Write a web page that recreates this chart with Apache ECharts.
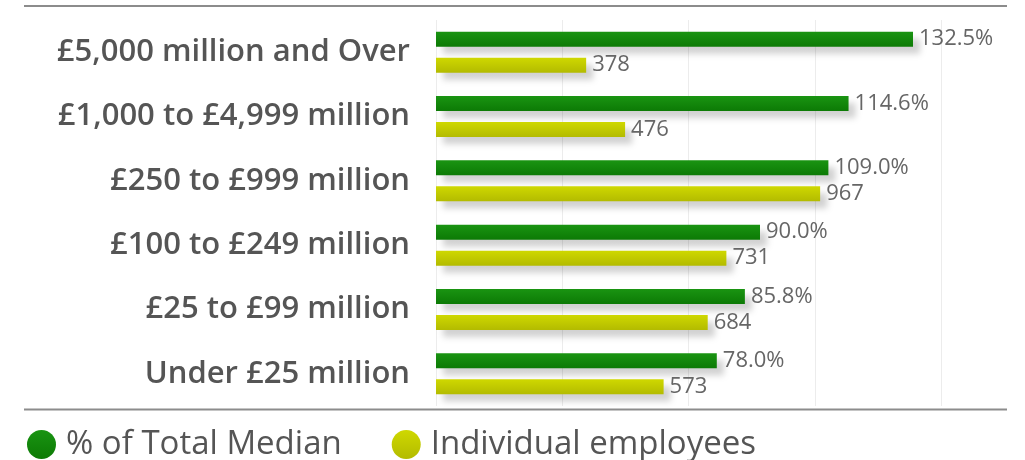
<!DOCTYPE html>
<html>
<head>
<meta charset="utf-8">
<script src="https://cdn.jsdelivr.net/npm/echarts@6/dist/echarts.min.js"></script>
<style>
  html, body { margin: 0; padding: 0; background: #fff; }
  #chart { width: 1025px; height: 460px; }
</style>
</head>
<body>
<div id="chart"></div>
<script>
// Turnover bands, top to bottom
const categories = [
  '£5,000 million and Over',
  '£1,000 to £4,999 million',
  '£250 to £999 million',
  '£100 to £249 million',
  '£25 to £99 million',
  'Under £25 million'
];
// Share of the total median (%)
const pctOfMedian = [132.5, 114.6, 109.0, 90.0, 85.8, 78.0];
// Number of individual employees
const employees = [378, 476, 967, 731, 684, 573];

const seriesNames = ['% of Total Median', 'Individual employees'];

const FONT = '"Open Sans", Lato, sans-serif';
const shadow = {
  shadowColor: 'rgba(0,0,0,0.18)',
  shadowBlur: 6,
  shadowOffsetX: 7,
  shadowOffsetY: 7
};

const chart = echarts.init(document.getElementById('chart'), null, { renderer: 'canvas' });

chart.setOption({
  animation: false,
  backgroundColor: '#ffffff',
  grid: { left: 436, top: 20, width: 576, height: 386, containLabel: false },
  xAxis: [
    {
      type: 'value', min: 0, max: 160, interval: 35.1,
      axisLine: { show: false }, axisTick: { show: false }, axisLabel: { show: false },
      splitLine: { show: true, showMaxLine: false, lineStyle: { color: '#ececec', width: 1 } }
    },
    {
      type: 'value', min: 0, max: 1450,
      axisLine: { show: false }, axisTick: { show: false }, axisLabel: { show: false },
      splitLine: { show: false }
    }
  ],
  yAxis: {
    type: 'category', data: categories, inverse: true,
    axisLine: { show: false }, axisTick: { show: false },
    axisLabel: {
      margin: 26, color: '#555555', fontSize: 31, fontWeight: 600, fontFamily: FONT,
      padding: [0, 0, 10, 0]
    }
  },
  legend: {
    data: seriesNames,
    left: 22, top: 423,
    icon: 'circle', itemWidth: 29, itemHeight: 29, itemGap: 50,
    textStyle: { color: '#555555', fontSize: 33, fontFamily: FONT, padding: [0, 0, 0, 5] }
  },
  series: [
    {
      name: seriesNames[0], type: 'bar', xAxisIndex: 0,
      data: pctOfMedian, barWidth: 15, barGap: '73%',
      itemStyle: Object.assign({
        color: new echarts.graphic.LinearGradient(0, 0, 0, 1, [
          { offset: 0, color: '#1a9412' },
          { offset: 1, color: '#0c7a05' }
        ])
      }, shadow),
      label: {
        show: true, position: 'right', distance: 6,
        color: '#666666', fontSize: 22, fontFamily: FONT,
        formatter: p => p.value.toFixed(1) + '%'
      }
    },
    {
      name: seriesNames[1], type: 'bar', xAxisIndex: 1,
      data: employees, barWidth: 15,
      itemStyle: Object.assign({
        color: new echarts.graphic.LinearGradient(0, 0, 0, 1, [
          { offset: 0, color: '#cfd800' },
          { offset: 1, color: '#b3bb00' }
        ])
      }, shadow),
      label: {
        show: true, position: 'right', distance: 6,
        color: '#666666', fontSize: 22, fontFamily: FONT
      }
    }
  ],
  color: ['#128a0a', '#c8d400'],
  graphic: [
    { type: 'line', shape: { x1: 24, y1: 6, x2: 1007, y2: 6 }, style: { stroke: '#8c8c8c', lineWidth: 2 } },
    { type: 'line', shape: { x1: 24, y1: 409.5, x2: 1007, y2: 409.5 }, style: { stroke: '#8c8c8c', lineWidth: 2 } }
  ]
});
</script>
</body>
</html>
